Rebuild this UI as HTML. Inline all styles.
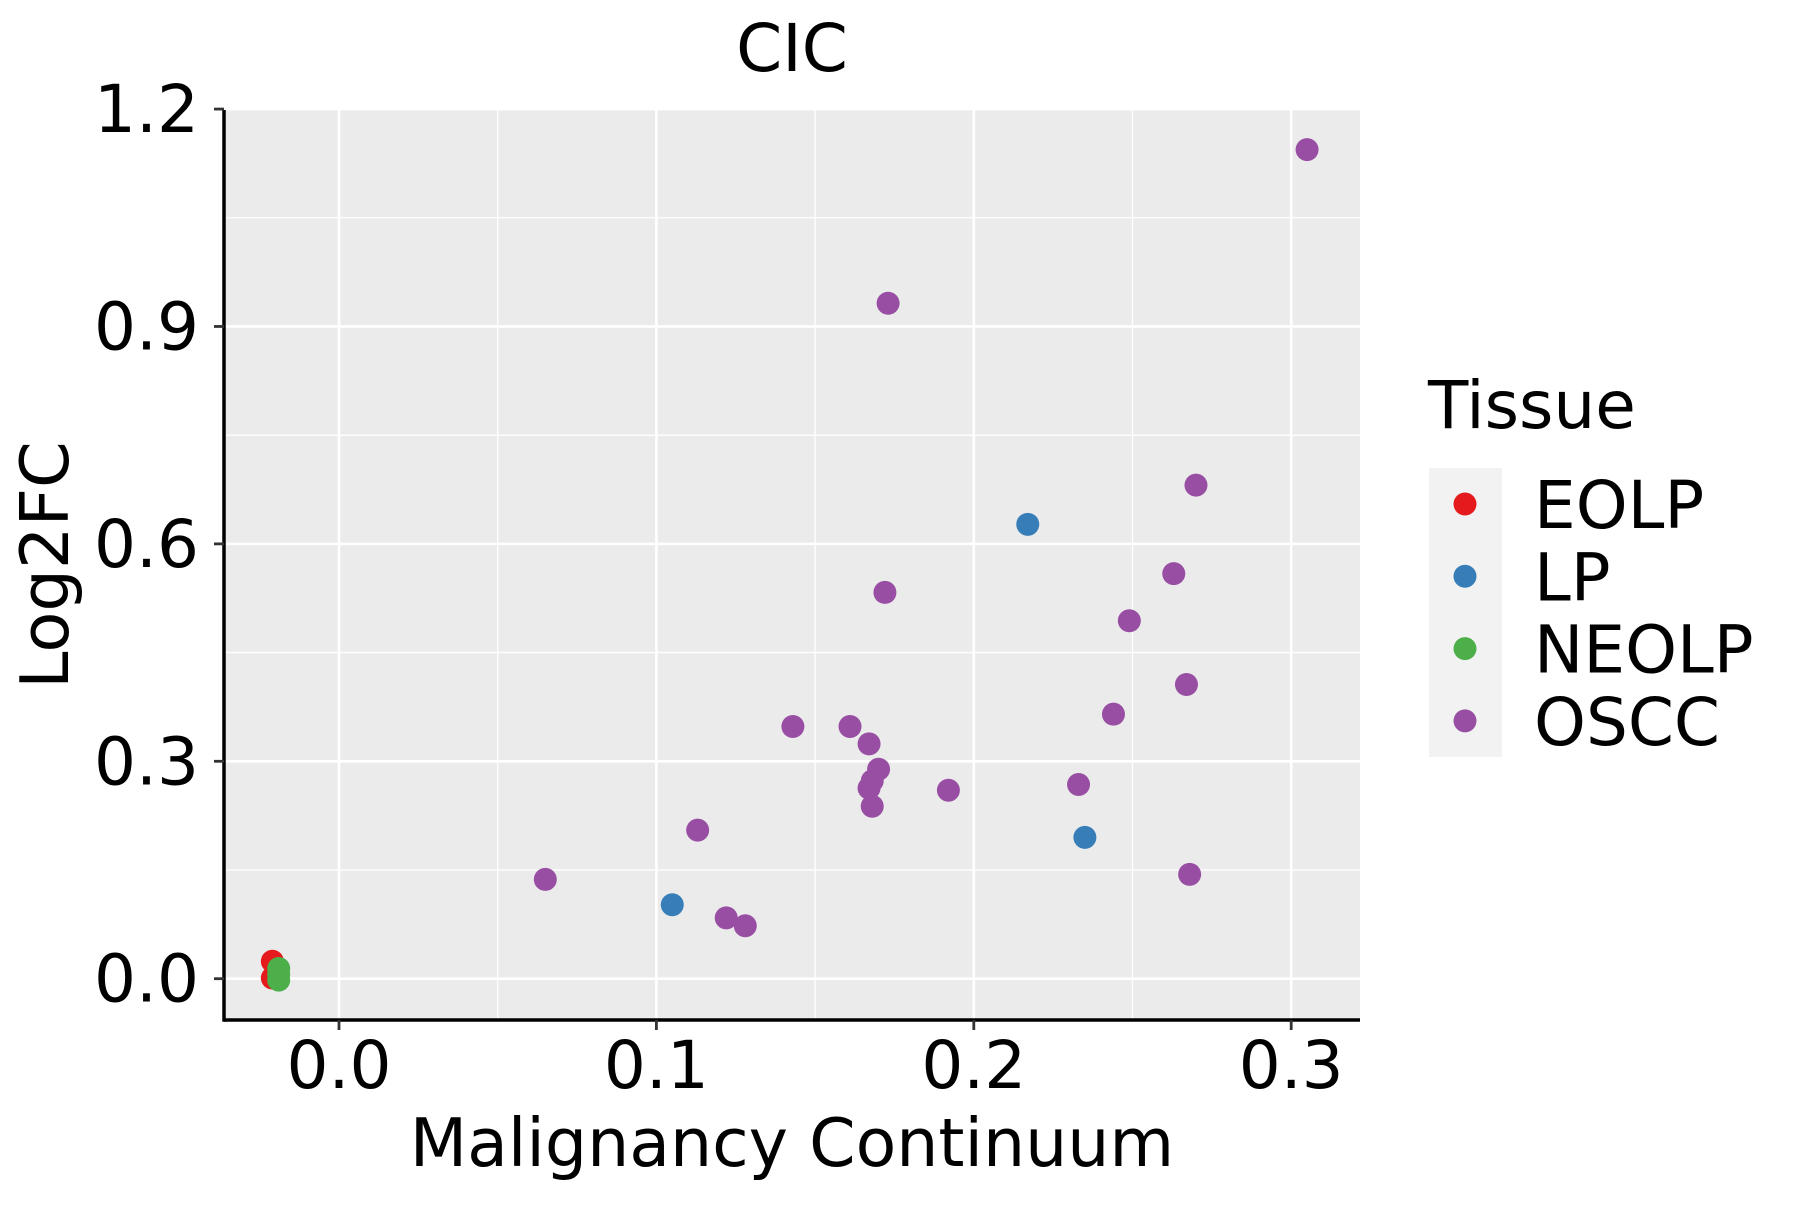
<!DOCTYPE html>
<html><head><meta charset="utf-8"><style>
body{margin:0;background:#fff}
svg text{font-family:"DejaVu Sans","Liberation Sans",sans-serif;fill:#000}
</style></head><body>
<svg id="chart" width="1800" height="1200" viewBox="0 0 1800 1200" xmlns="http://www.w3.org/2000/svg">
<rect width="1800" height="1200" fill="#fff"/>
<rect x="224" y="110" width="1136" height="910" fill="#ebebeb"/>
<g id="grid"></g>
<g id="points"></g>
<line x1="224" y1="1020" x2="1360" y2="1020" stroke="#000" stroke-width="3.5"/>
<line x1="224" y1="110" x2="224" y2="1021.7" stroke="#000" stroke-width="3.5"/>
<g id="ticks"></g>
<text x="792" y="71" font-size="66" text-anchor="middle">CIC</text>
<text x="792" y="1166" font-size="66.5" text-anchor="middle">Malignancy Continuum</text>
<text transform="translate(68,565) rotate(-90)" font-size="67" text-anchor="middle">Log2FC</text>
<g>
<text x="1428" y="428" font-size="66">Tissue</text>
<rect x="1429" y="468" width="73" height="289" fill="#f2f2f2"/>
<g id="legend-items"></g>
</g>
</svg>
<script>
const categories = ["EOLP","LP","NEOLP","OSCC"];
const colors = ["#e41a1c","#377eb8","#4daf4a","#984ea3"];
const xTicks = [0.0,0.1,0.2,0.3];
const xTickLabels = ["0.0","0.1","0.2","0.3"];
const yTicks = [0.0,0.3,0.6,0.9,1.2];
const yTickLabels = ["0.0","0.3","0.6","0.9","1.2"];
const pointGroup = ["EOLP","EOLP","NEOLP","NEOLP","NEOLP","LP","LP","LP",
 "OSCC","OSCC","OSCC","OSCC","OSCC","OSCC","OSCC","OSCC","OSCC","OSCC","OSCC","OSCC","OSCC","OSCC","OSCC","OSCC","OSCC","OSCC","OSCC","OSCC","OSCC","OSCC"];
const xValues = [-0.021,-0.021,-0.019,-0.019,-0.019,0.217,0.235,0.105,
 0.305,0.173,0.270,0.172,0.263,0.249,0.267,0.244,0.143,0.161,0.167,0.170,0.168,0.167,0.168,0.192,0.233,0.113,0.065,0.122,0.128,0.268];
const yValues = [0.024,0.001,0.014,-0.002,0.006,0.627,0.195,0.102,
 1.144,0.932,0.681,0.533,0.559,0.494,0.406,0.365,0.348,0.348,0.324,0.289,0.273,0.263,0.238,0.260,0.268,0.205,0.137,0.084,0.073,0.144];

const NS="http://www.w3.org/2000/svg";
const X0=224,X1=1360,Y0=110,Y1=1020;
function xs(v){return 339 + v*3174;}
function ys(v){return 978.7 - v*724.7;}
function mk(tag,attrs,parent){const e=document.createElementNS(NS,tag);for(const k in attrs)e.setAttribute(k,attrs[k]);parent.appendChild(e);return e;}
const grid=document.getElementById('grid');
for(let i=0;i<xTicks.length;i++){
  const m=xTicks[i]+0.05;
  if(i<xTicks.length-1||xs(m)<X1){const g=mk('line',{x1:xs(m),x2:xs(m),y1:Y0,y2:Y1,stroke:'#fff','stroke-width':1.3},grid);
  
  }
  const G=mk('line',{x1:xs(xTicks[i]),x2:xs(xTicks[i]),y1:Y0,y2:Y1,stroke:'#fff','stroke-width':2.6},grid);
  
  
}
for(let i=0;i<yTicks.length;i++){
  if(i<yTicks.length-1){const m=yTicks[i]+0.15;const g=mk('line',{x1:X0,x2:X1,y1:ys(m),y2:ys(m),stroke:'#fff','stroke-width':1.3},grid);
  
  }
  const G=mk('line',{x1:X0,x2:X1,y1:ys(yTicks[i]),y2:ys(yTicks[i]),stroke:'#fff','stroke-width':2.6},grid);
  
  
}
const pts=document.getElementById('points');
for(let i=0;i<xValues.length;i++){
  const c=colors[categories.indexOf(pointGroup[i])];
  const p=mk('circle',{cx:xs(xValues[i]),cy:ys(yValues[i]),r:11.5,fill:c},pts);
  
  
}
const tk=document.getElementById('ticks');
for(let i=0;i<xTicks.length;i++){
  const t=mk('line',{x1:xs(xTicks[i]),x2:xs(xTicks[i]),y1:Y1,y2:Y1+10,stroke:'#333','stroke-width':2.8},tk);
  
  
  const l=mk('text',{x:xs(xTicks[i]),y:1088,'font-size':66,'text-anchor':'middle'},tk);
  l.textContent=xTickLabels[i];
  
  
}
for(let i=0;i<yTicks.length;i++){
  const t=mk('line',{x1:X0-10,x2:X0,y1:ys(yTicks[i]),y2:ys(yTicks[i]),stroke:'#333','stroke-width':2.8},tk);
  
  
  const l=mk('text',{x:199,y:ys(yTicks[i])+23,'font-size':66,'text-anchor':'end'},tk);
  l.textContent=yTickLabels[i];
  
  
}
const li=document.getElementById('legend-items');
for(let i=0;i<categories.length;i++){
  const y=504+i*72.3;
  const c=mk('circle',{cx:1465,cy:y,r:11.5,fill:colors[i]},li);
  
  
  const t=mk('text',{x:1534,y:y+24,'font-size':66},li);
  t.textContent=categories[i];
  
  
}
</script>
</body></html>
